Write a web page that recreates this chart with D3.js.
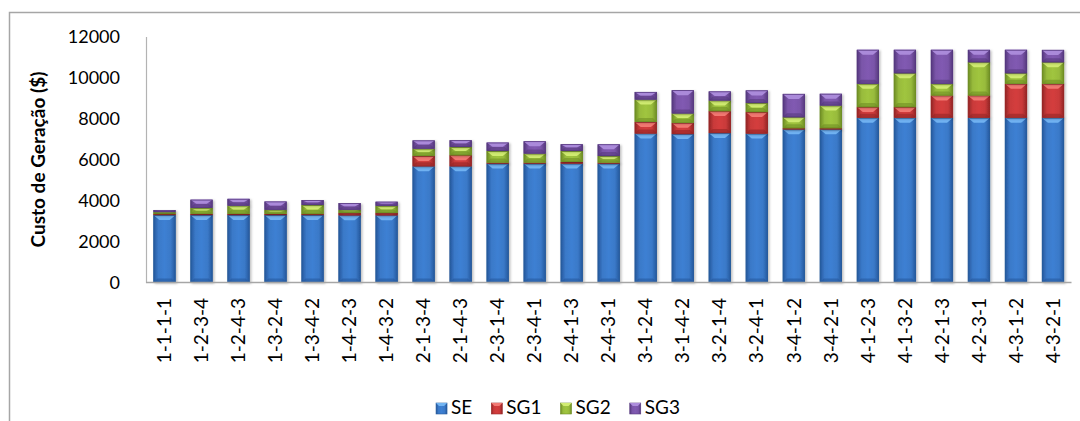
<!DOCTYPE html>
<html>
<head>
<meta charset="utf-8">
<script src="https://cdn.jsdelivr.net/npm/d3@7"></script>
<style>
  html, body { margin: 0; padding: 0; background: #fff; }
  svg { display: block; font-family: Lato, "Open Sans", sans-serif; }
</style>
</head>
<body>
<svg id="chart" width="1080" height="421"></svg>
<script>
// Dispatch orders (one per bar)
const categories = [
  "1-1-1-1","1-2-3-4","1-2-4-3","1-3-2-4","1-3-4-2","1-4-2-3","1-4-3-2",
  "2-1-3-4","2-1-4-3","2-3-1-4","2-3-4-1","2-4-1-3","2-4-3-1",
  "3-1-2-4","3-1-4-2","3-2-1-4","3-2-4-1","3-4-1-2","3-4-2-1",
  "4-1-2-3","4-1-3-2","4-2-1-3","4-2-3-1","4-3-1-2","4-3-2-1"
];

// Generation cost per source ($)
const SE  = [3290,3290,3290,3290,3290,3280,3280, 5670,5670,5800,5800,5800,5800, 7270,7240,7290,7265,7470,7470, 8040,8040,8040,8040,8040,8040];
const SG1 = [  50,  60,  60,  60,  50, 110, 110,  500, 540,  50,  50,  80,  50,  565, 550,1070,1050,  60,  60,  516, 516,1086,1086,1655,1655];
const SG2 = [  95, 290, 400, 200, 440, 160, 350,  360, 400, 565, 440, 535, 320, 1090, 460, 520, 440, 535,1105, 1140,1655, 570,1622, 516,1052];
const SG3 = [ 100, 400, 330, 400, 240, 320, 200,  400, 330, 410, 600, 330, 570,  370,1130, 440, 615,1135, 570, 1655,1140,1655, 600,1140, 600];

const seriesNames = ["SE", "SG1", "SG2", "SG3"];
const yTicks = [0, 2000, 4000, 6000, 8000, 10000, 12000];
const yTitle = "Custo de Geração ($)";

// Base / light / dark tones for each series
const palette = {
  SE:  { base: "#3a79c8", light: "#72b4f2", dark: "#24569a", edge: "#2a5d9c" },
  SG1: { base: "#c93a3a", light: "#f27a74", dark: "#8f2424", edge: "#9a2a2a" },
  SG2: { base: "#98bb3c", light: "#d2ec72", dark: "#6b8a22", edge: "#6f8e26" },
  SG3: { base: "#7a55a9", light: "#ad8ddc", dark: "#53367a", edge: "#573a80" }
};

const rows = categories.map((c, i) => ({ cat: c, SE: SE[i], SG1: SG1[i], SG2: SG2[i], SG3: SG3[i] }));
const stacked = d3.stack().keys(seriesNames)(rows);

const svg = d3.select("#chart");
const W = 1080, H = 421;

// Outer chart frame
svg.append("path")
  .attr("d", `M9.5,${H + 2}V12.5H${W + 2}`)
  .attr("fill", "none").attr("stroke", "#a6a6a6").attr("stroke-width", 1.5);

const x = d3.scaleBand().domain(categories).range([146, 1071.5]).paddingInner(0.4).paddingOuter(0.2);
const y = d3.scaleLinear().domain([0, 12000]).range([282.5, 36.5]);

const defs = svg.append("defs");
seriesNames.forEach(k => {
  const p = palette[k];
  const g = defs.append("linearGradient").attr("id", "grad-" + k).attr("x1", 0).attr("x2", 1).attr("y1", 0).attr("y2", 0);
  g.append("stop").attr("offset", "0%").attr("stop-color", p.dark);
  g.append("stop").attr("offset", "22%").attr("stop-color", p.base);
  g.append("stop").attr("offset", "50%").attr("stop-color", d3.color(p.base).brighter(0.15));
  g.append("stop").attr("offset", "78%").attr("stop-color", p.base);
  g.append("stop").attr("offset", "100%").attr("stop-color", p.dark);
});
const shadow = defs.append("filter").attr("id", "shadow").attr("x", "-20%").attr("y", "-20%").attr("width", "150%").attr("height", "150%");
shadow.append("feDropShadow").attr("dx", 1.5).attr("dy", 1).attr("stdDeviation", 1).attr("flood-color", "#000").attr("flood-opacity", 0.25);

// Y axis
const yAxis = svg.append("g").attr("transform", "translate(146,0)")
  .call(d3.axisLeft(y).tickValues(yTicks).tickSize(0).tickPadding(26).tickFormat(d3.format("d")));
yAxis.select(".domain").attr("stroke", "#b3b3b3").attr("stroke-width", 1.2);
yAxis.selectAll("text").attr("font-size", 18).attr("fill", "#000").attr("font-family", "Lato, sans-serif");

svg.append("text")
  .attr("transform", `translate(45,${(y(0) + y(12000)) / 2}) rotate(-90)`)
  .attr("text-anchor", "middle")
  .attr("font-size", 19).attr("font-weight", "bold").attr("fill", "#000")
  .text(yTitle);

// Stacked bars with a bevelled look
const barLayer = svg.append("g");
stacked.forEach(s => {
  const k = s.key, p = palette[k];
  const grp = barLayer.append("g").attr("filter", "url(#shadow)");
  s.forEach((d, i) => {
    const x0 = x(categories[i]), w = x.bandwidth();
    const yTop = y(d[1]), yBot = y(d[0]);
    const h = yBot - yTop;
    if (h <= 0) return;
    const g = grp.append("g");
    g.append("rect").attr("x", x0).attr("y", yTop).attr("width", w).attr("height", h)
      .attr("fill", `url(#grad-${k})`);
    const b = Math.min(5, h / 2, w / 2);
    const bb = Math.min(4, h / 2);
    // top facet
    g.append("path")
      .attr("d", `M${x0},${yTop}H${x0 + w}L${x0 + w - 6},${yTop + b}H${x0 + 6}Z`)
      .attr("fill", p.light).attr("opacity", 0.95);
    // bottom facet
    g.append("path")
      .attr("d", `M${x0},${yBot}H${x0 + w}L${x0 + w - 4},${yBot - bb}H${x0 + 4}Z`)
      .attr("fill", p.dark).attr("opacity", 0.55);
    g.append("rect").attr("x", x0 + 0.4).attr("y", yTop + 0.4).attr("width", w - 0.8).attr("height", Math.max(0, h - 0.8))
      .attr("fill", "none").attr("stroke", p.edge).attr("stroke-width", 0.8);
  });
});

// Baseline
svg.append("line").attr("x1", 146).attr("x2", 1071.5).attr("y1", 282.5).attr("y2", 282.5)
  .attr("stroke", "#a6a6a6").attr("stroke-width", 1.5);

// Category labels (vertical)
svg.append("g").selectAll("text").data(categories).join("text")
  .attr("transform", d => `translate(${x(d) + x.bandwidth() / 2},298) rotate(-90)`)
  .attr("text-anchor", "end").attr("dy", "0.35em")
  .attr("font-size", 19).attr("fill", "#000")
  .text(d => d);

// Legend
const legend = svg.append("g");
let cursor = 0;
seriesNames.forEach(k => {
  const it = legend.append("g");
  it.append("rect").attr("x", 0).attr("y", -11).attr("width", 11).attr("height", 11)
    .attr("fill", `url(#grad-${k})`).attr("stroke", palette[k].edge).attr("stroke-width", 0.6);
  it.append("path").attr("d", "M0,-11H11L8,-8H3Z").attr("fill", palette[k].light);
  const t = it.append("text").attr("x", 15).attr("y", 0).attr("font-size", 19).attr("fill", "#000").text(k);
  const wItem = 15 + t.node().getComputedTextLength();
  it.attr("transform", `translate(${cursor},0)`);
  cursor += wItem + 19;
});
const total = cursor - 19;
legend.attr("transform", `translate(${558 - total / 2},414)`);
</script>
</body>
</html>
